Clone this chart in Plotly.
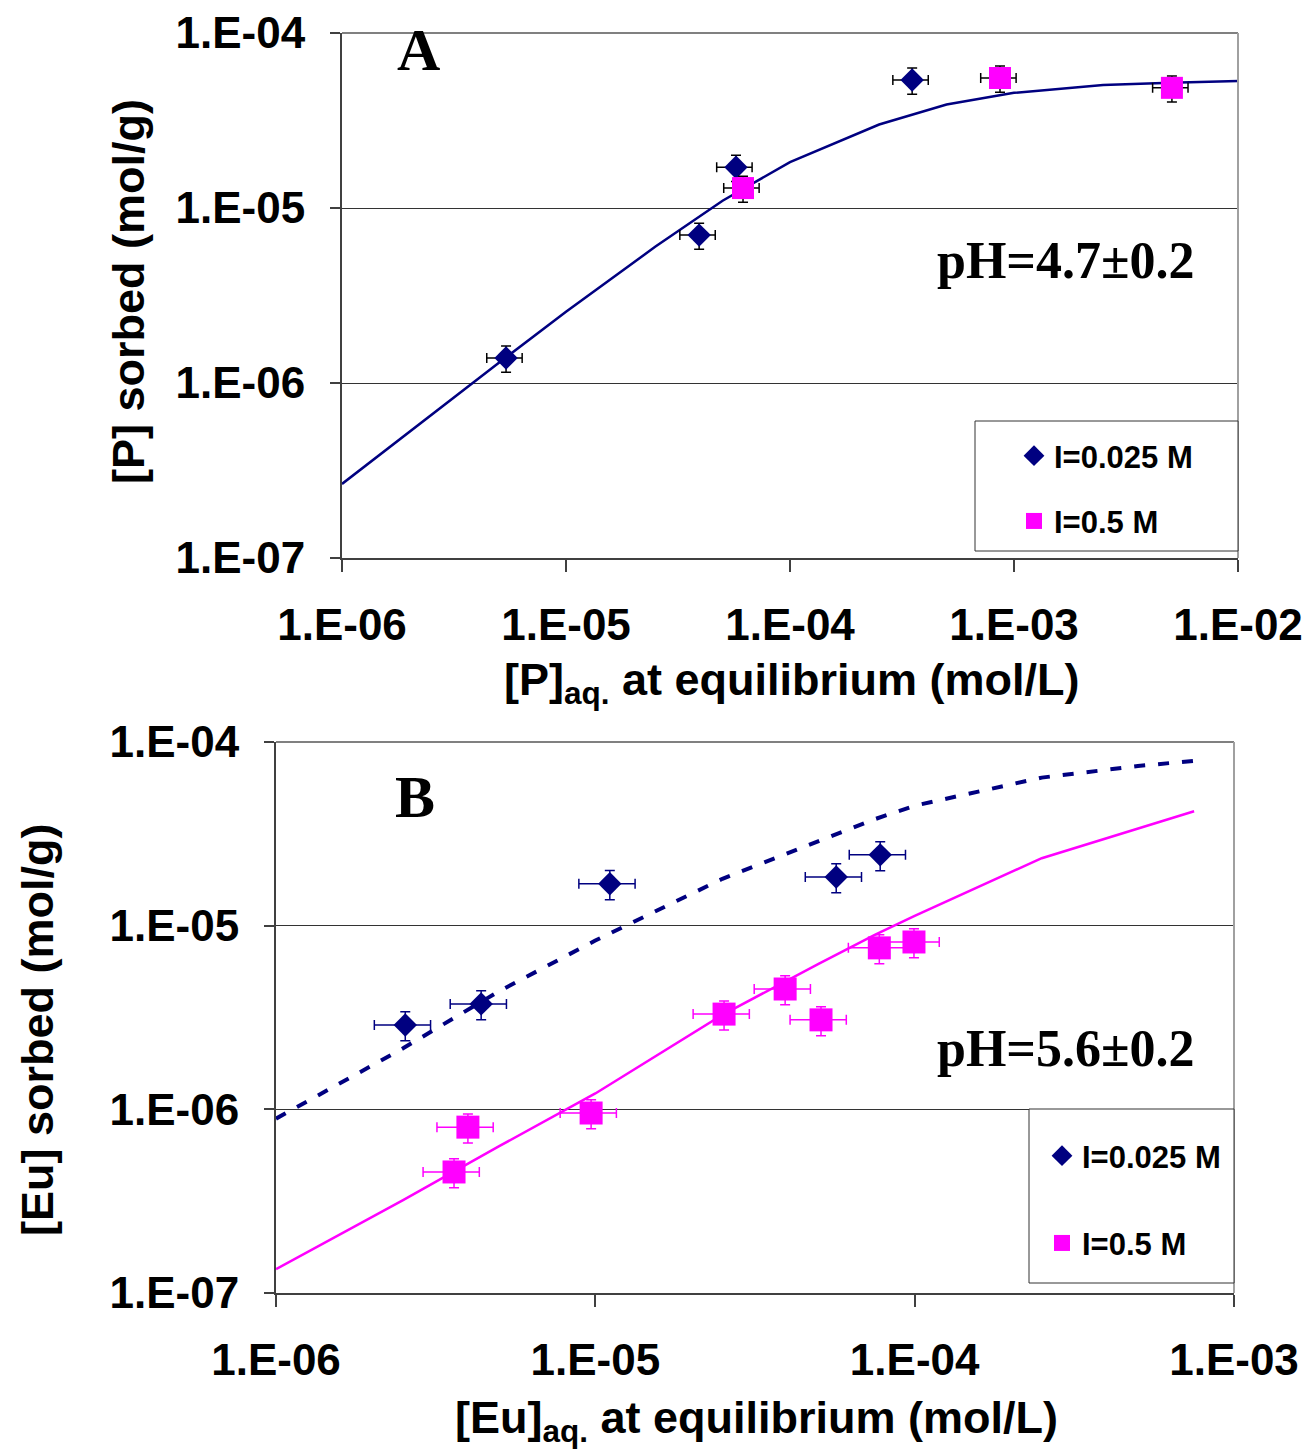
import plotly.graph_objects as go

# ---------------- Panel A data ----------------
a_d_x = [5.4e-6, 3.93e-5, 5.74e-5, 3.51e-4]
a_d_y = [1.39e-6, 7.0e-6, 1.71e-5, 5.39e-5]
a_s_x = [6.17e-5, 8.66e-4, 5.07e-3]
a_s_y = [1.30e-5, 5.53e-5, 4.86e-5]
a_fit_x = [1e-6, 2.5e-6, 5e-6, 1e-5, 2.5e-5, 5e-5, 1e-4, 2.5e-4, 5e-4, 1e-3, 2.5e-3, 5e-3, 1e-2]
a_fit_y = [2.65e-7, 6.6e-7, 1.3e-6, 2.55e-6, 6.0e-6, 1.1e-5, 1.83e-5, 3.0e-5, 3.9e-5, 4.55e-5, 5.05e-5, 5.2e-5, 5.32e-5]

# ---------------- Panel B data ----------------
b_d_x = [2.54e-6, 4.39e-6, 1.11e-5, 5.68e-5, 7.8e-5]
b_d_y = [2.88e-6, 3.75e-6, 1.69e-5, 1.84e-5, 2.43e-5]
b_s_x = [3.61e-6, 3.99e-6, 9.7e-6, 2.53e-5, 3.93e-5, 5.09e-5, 7.75e-5, 9.95e-5]
b_s_y = [4.56e-7, 8.0e-7, 9.55e-7, 3.3e-6, 4.52e-6, 3.07e-6, 7.57e-6, 8.15e-6]
b_fit_x = [1e-6, 2.5e-6, 5e-6, 7.5e-6, 1e-5, 2.5e-5, 5e-5, 7.5e-5, 1e-4, 2.5e-4, 5e-4, 7.5e-4]
b_fit_d = [8.9e-7, 2.15e-6, 4.4e-6, 6.4e-6, 8.3e-6, 1.8e-5, 2.9e-5, 3.8e-5, 4.5e-5, 6.4e-5, 7.4e-5, 7.9e-5]
b_fit_s = [1.35e-7, 3.2e-7, 6.3e-7, 9.3e-7, 1.22e-6, 3.27e-6, 6.2e-6, 8.9e-6, 1.13e-5, 2.33e-5, 3.4e-5, 4.2e-5]

# tick labels
a_xticks = [1e-6, 1e-5, 1e-4, 1e-3, 1e-2]
a_xtext = ["1.E-06", "1.E-05", "1.E-04", "1.E-03", "1.E-02"]
b_xticks = [1e-6, 1e-5, 1e-4, 1e-3]
b_xtext = ["1.E-06", "1.E-05", "1.E-04", "1.E-03"]
yticks = [1e-7, 1e-6, 1e-5, 1e-4]
ytext = ["1.E-07", "1.E-06", "1.E-05", "1.E-04"]

series_names = ["I=0.025 M", "I=0.5 M"]

NAVY = "#000080"
MAG = "#FF00FF"
AX = "#404040"
W, H = 1308, 1450

def px(X):
    return X / W

def py(Y):
    return 1 - Y / H

fig = go.Figure()

# Panel A
fig.add_trace(go.Scatter(x=a_fit_x, y=a_fit_y, mode="lines", line=dict(color=NAVY, width=2.5),
                         showlegend=False, xaxis="x", yaxis="y", hoverinfo="skip"))
fig.add_trace(go.Scatter(x=a_d_x, y=a_d_y, mode="markers", name=series_names[0],
                         marker=dict(symbol="diamond", size=18, color=NAVY),
                         error_x=dict(type="percent", value=18, color="black", thickness=1.5, width=5),
                         error_y=dict(type="percent", value=17, color="black", thickness=1.5, width=5),
                         xaxis="x", yaxis="y", legend="legend", legendgroup="a1"))
fig.add_trace(go.Scatter(x=a_s_x, y=a_s_y, mode="markers", name=series_names[1],
                         marker=dict(symbol="square", size=22, color=MAG),
                         error_x=dict(type="percent", value=18, color="black", thickness=1.5, width=5),
                         error_y=dict(type="percent", value=17, color="black", thickness=1.5, width=5),
                         xaxis="x", yaxis="y", legend="legend", legendgroup="a2"))

# Panel B
fig.add_trace(go.Scatter(x=b_fit_x, y=b_fit_d, mode="lines", line=dict(color=NAVY, width=4, dash="11px,13px"),
                         showlegend=False, xaxis="x2", yaxis="y2", hoverinfo="skip"))
fig.add_trace(go.Scatter(x=b_fit_x, y=b_fit_s, mode="lines", line=dict(color=MAG, width=2.5),
                         showlegend=False, xaxis="x2", yaxis="y2", hoverinfo="skip"))
fig.add_trace(go.Scatter(x=b_d_x, y=b_d_y, mode="markers", name=series_names[0],
                         marker=dict(symbol="diamond", size=18, color=NAVY),
                         error_x=dict(type="percent", value=20, color=NAVY, thickness=1.5, width=5),
                         error_y=dict(type="percent", value=18, color=NAVY, thickness=1.5, width=5),
                         xaxis="x2", yaxis="y2", legend="legend2", legendgroup="b1"))
fig.add_trace(go.Scatter(x=b_s_x, y=b_s_y, mode="markers", name=series_names[1],
                         marker=dict(symbol="square", size=23, color=MAG),
                         error_x=dict(type="percent", value=20, color=MAG, thickness=1.5, width=5),
                         error_y=dict(type="percent", value=18, color=MAG, thickness=1.5, width=5),
                         xaxis="x2", yaxis="y2", legend="legend2", legendgroup="b2"))

tickfont = dict(family="Liberation Sans", size=44, color="black", weight="bold")

def xax(dom, anchor, tv, tt, rng):
    return dict(domain=dom, anchor=anchor, type="log", range=rng, tickvals=tv, ticktext=tt,
                ticks="outside", ticklen=12, tickwidth=1.5, tickcolor=AX, showline=True,
                linecolor=AX, linewidth=2, showgrid=False, zeroline=False, tickfont=tickfont,
                ticklabelstandoff=15, automargin=False)

def yax(dom, anchor):
    return dict(domain=dom, anchor=anchor, type="log", range=[-7, -4], tickvals=yticks, ticktext=ytext,
                ticks="outside", ticklen=10, tickwidth=1.5, tickcolor=AX, showline=True,
                linecolor=AX, linewidth=2, showgrid=True, gridcolor="#333333", gridwidth=1,
                zeroline=False, tickfont=tickfont, ticklabelstandoff=16, automargin=False)

legfont = dict(family="Liberation Sans", size=31, color="black", weight="bold")

fig.update_layout(
    width=W, height=H, margin=dict(l=0, r=0, t=0, b=0, autoexpand=False),
    paper_bgcolor="white", plot_bgcolor="white",
    xaxis=xax([px(342), px(1238)], "y", a_xticks, a_xtext, [-6, -2]),
    yaxis=yax([py(558), py(33)], "x"),
    xaxis2=xax([px(276), px(1234)], "y2", b_xticks, b_xtext, [-6, -3]),
    yaxis2=yax([py(1293), py(742)], "x2"),
    legend=dict(x=px(1014), y=py(429), xanchor="left", yanchor="top", bgcolor="rgba(0,0,0,0)",
                borderwidth=0, font=legfont, tracegroupgap=22, traceorder="grouped"),
    legend2=dict(x=px(1042), y=py(1129), xanchor="left", yanchor="top", bgcolor="rgba(0,0,0,0)",
                 borderwidth=0, font=legfont, tracegroupgap=44, traceorder="grouped"),
    showlegend=True,
)

shapes = []
# plot frame top/right borders (gray)
for xr, yr in [("x domain", "y domain"), ("x2 domain", "y2 domain")]:
    shapes.append(dict(type="line", xref=xr, yref=yr, x0=0, x1=1, y0=1, y1=1, line=dict(color="#808080", width=2)))
    shapes.append(dict(type="line", xref=xr, yref=yr, x0=1, x1=1, y0=0, y1=1, line=dict(color="#A0A0A0", width=2)))
# legend boxes
shapes.append(dict(type="rect", xref="paper", yref="paper", x0=px(975), x1=px(1238), y0=py(551), y1=py(421),
                   line=dict(color="#333333", width=1), fillcolor="white", layer="above"))
shapes.append(dict(type="rect", xref="paper", yref="paper", x0=px(1029), x1=px(1234), y0=py(1283), y1=py(1109),
                   line=dict(color="#333333", width=1), fillcolor="white", layer="above"))
fig.update_layout(shapes=shapes)

titlefont = dict(family="Liberation Sans", size=45, color="black", weight="bold")
serif = dict(family="Liberation Serif", color="black", weight="bold")
ann = [
    dict(text="[P] sorbed (mol/g)", x=px(128), y=py(292), textangle=-90, font=titlefont),
    dict(text="[P]<sub>aq.</sub> at equilibrium (mol/L)", x=px(792), y=py(682), font=titlefont),
    dict(text="[Eu] sorbed (mol/g)", x=px(37), y=py(1030), textangle=-90, font=titlefont),
    dict(text="[Eu]<sub>aq.</sub> at equilibrium (mol/L)", x=px(756), y=py(1420), font=titlefont),
    dict(text="A", x=px(418), y=py(50), font=dict(serif, size=60)),
    dict(text="B", x=px(415), y=py(797), font=dict(serif, size=60)),
    dict(text="pH=4.7±0.2", x=px(1066), y=py(260), font=dict(serif, size=52)),
    dict(text="pH=5.6±0.2", x=px(1066), y=py(1048), font=dict(serif, size=52)),
]
for a in ann:
    a.update(xref="paper", yref="paper", showarrow=False, xanchor="center", yanchor="middle")
fig.update_layout(annotations=ann)

fig.write_html("out.html")
